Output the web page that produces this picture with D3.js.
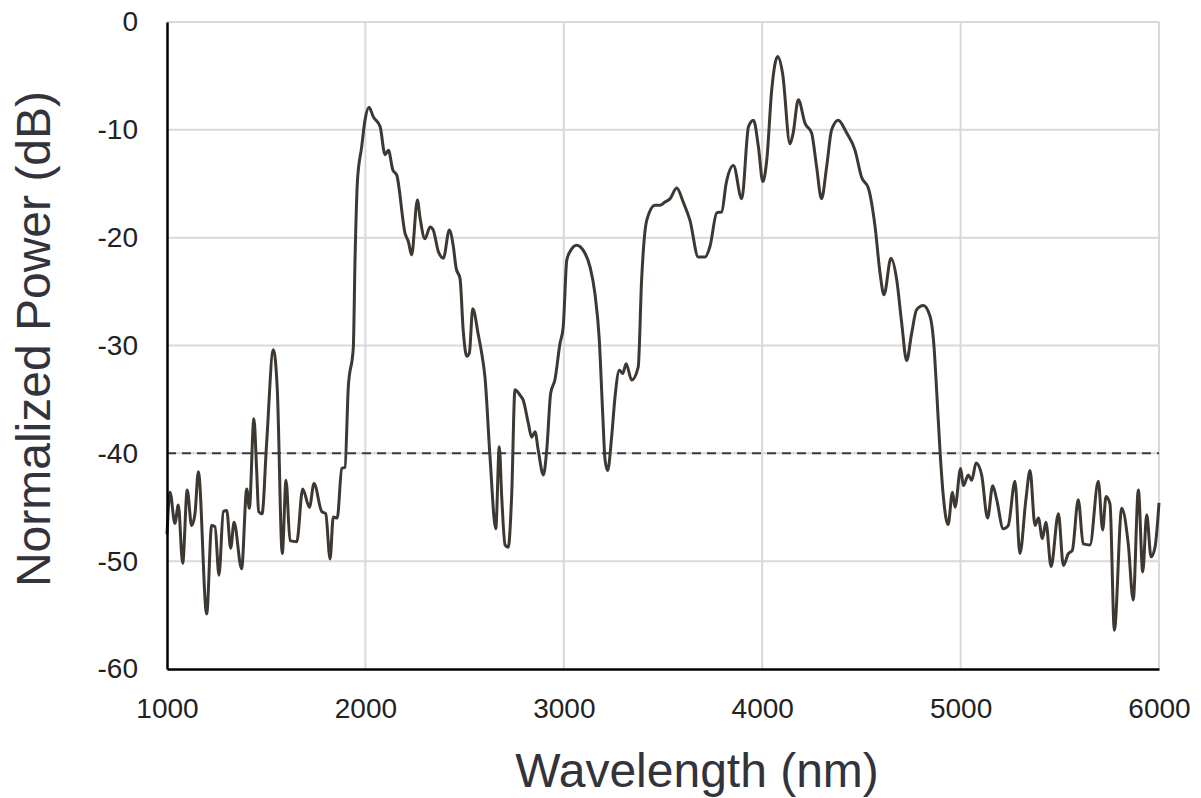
<!DOCTYPE html>
<html>
<head>
<meta charset="utf-8">
<script src="https://cdn.jsdelivr.net/npm/d3@7"></script>
<style>
  html, body { margin: 0; padding: 0; background: #fff; }
  svg { display: block; font-family: "Liberation Sans", Arial, sans-serif; }
</style>
</head>
<body>
<svg id="chart" width="1201" height="798"></svg>
<script>
// Spectrum samples: wavelength (nm) and normalized power (dB)
const wavelength = [
  1000,1015,1040,1057,1079,1102,1124,1141,1158,1200,1225,1242,1262,1284,1301,1321,1338,1376,1402,1415,
  1438,1452,1462,1479,1502,1536,1556,1581,1600,1620,1654,1684,1718,1741,1780,1800,1822,1838,1858,1881,
  1897,1914,1939,1948,1960,1981,1998,2018,2040,2074,2099,2116,2138,2158,2200,2217,2233,2262,2275,2300,
  2326,2342,2368,2393,2423,2443,2457,2477,2493,2511,2524,2541,2569,2586,2603,2628,2657,2675,2687,2704,
  2720,2737,2754,2779,2796,2821,2838,2855,2871,2897,2914,2934,2955,2981,2997,3015,3031,3065,3099,3132,
  3157,3179,3196,3208,3221,3241,3258,3280,3297,3314,3342,3375,3392,3418,3460,3485,3510,3535,3569,3602,
  3636,3678,3712,3737,3771,3796,3818,3855,3897,3931,3956,3981,4003,4023,4048,4078,4103,4140,4156,4182,
  4216,4249,4274,4299,4325,4350,4383,4426,4468,4501,4535,4569,4594,4614,4649,4678,4703,4728,4753,4778,
  4812,4846,4866,4879,4896,4913,4937,4959,4972,5000,5014,5039,5056,5078,5106,5136,5162,5182,5215,5240,
  5274,5299,5329,5350,5375,5392,5412,5430,5456,5493,5518,5543,5563,5593,5618,5652,5694,5716,5733,5753,
  5775,5812,5845,5870,5896,5918,5938,5960,5980,6000
];
const power = [
  -47.5,-43.6,-46.5,-44.8,-50.2,-43.4,-46.7,-45.6,-41.7,-54.9,-46.7,-46.8,-51.3,-45.4,-45.3,-48.8,-46.4,-50.7,-43.3,-45.1,
  -36.8,-41.6,-45.4,-45.6,-39.1,-30.4,-34.1,-49.3,-42.5,-48.1,-48.2,-43.3,-45.0,-42.8,-45.4,-45.6,-49.8,-45.9,-46.0,-41.4,
  -41.3,-33.8,-30.2,-21.8,-14.7,-11.6,-9.1,-7.9,-8.8,-9.7,-12.3,-11.9,-13.7,-14.2,-19.6,-20.4,-21.6,-16.5,-18.1,-20.1,
  -19.0,-19.3,-21.3,-21.9,-19.3,-20.8,-22.8,-23.8,-28.6,-31.0,-30.7,-26.6,-29.0,-30.7,-33.0,-40.3,-47.0,-39.4,-44.0,-48.5,
  -48.7,-44.0,-34.1,-34.6,-35.1,-37.2,-38.5,-38.0,-39.7,-42.0,-39.7,-34.4,-33.2,-29.8,-28.3,-22.1,-21.3,-20.7,-21.2,-22.7,
  -25.2,-29.5,-36.3,-40.6,-41.6,-38.5,-34.8,-32.3,-32.6,-31.7,-33.2,-32.0,-24.0,-18.4,-17.0,-17.0,-16.7,-16.4,-15.4,-16.7,
  -18.4,-21.8,-21.8,-20.8,-17.7,-17.6,-15.0,-13.3,-16.4,-9.7,-9.1,-11.6,-14.8,-12.8,-6.3,-3.2,-4.8,-11.3,-10.3,-7.2,
  -9.4,-10.3,-13.4,-16.4,-13.4,-10.0,-9.1,-10.3,-11.9,-14.4,-15.4,-19.0,-23.3,-25.3,-21.9,-23.9,-27.9,-31.4,-28.9,-26.7,
  -26.3,-27.3,-30.1,-34.1,-39.7,-44.0,-46.6,-43.6,-45.0,-41.4,-43.0,-42.0,-42.5,-40.9,-42.0,-46.0,-43.0,-44.3,-47.0,-46.7,
  -42.6,-49.3,-44.3,-41.6,-46.7,-46.0,-47.9,-46.4,-50.5,-45.6,-50.4,-49.3,-49.0,-44.3,-48.4,-48.5,-42.6,-47.1,-44.0,-44.7,
  -56.4,-45.1,-48.4,-53.6,-43.4,-51.0,-45.7,-49.6,-48.7,-44.6
];

// Axis ticks and the -40 dB reference level
const xTicks = [1000, 2000, 3000, 4000, 5000, 6000];
const yTicks = [0, -10, -20, -30, -40, -50, -60];
const thresholdDb = [-40];

const svg = d3.select("#chart");
const margin = { left: 167, right: 42, top: 22, bottom: 129 };
const W = 1201, H = 798;

const x = d3.scaleLinear().domain([1000, 6000]).range([margin.left, W - margin.right]);
const y = d3.scaleLinear().domain([-60, 0]).range([H - margin.bottom, margin.top]);

const points = wavelength.map((w, i) => ({ w, p: power[i] }));

// Gridlines
const grid = svg.append("g");
grid.selectAll("line.gx").data(xTicks.slice(1)).join("line")
  .attr("x1", d => x(d)).attr("x2", d => x(d))
  .attr("y1", y(0)).attr("y2", y(-60))
  .attr("stroke", "#d9d9d9").attr("stroke-width", 2);
grid.selectAll("line.gy").data(yTicks.slice(0, -1)).join("line")
  .attr("x1", x(1000)).attr("x2", x(6000))
  .attr("y1", d => y(d)).attr("y2", d => y(d))
  .attr("stroke", "#d9d9d9").attr("stroke-width", 2);

// -40 dB dashed reference
svg.selectAll("line.ref").data(thresholdDb).join("line")
  .attr("x1", x(1000)).attr("x2", x(6000))
  .attr("y1", d => y(d)).attr("y2", d => y(d))
  .attr("stroke", "#3b3b45").attr("stroke-width", 2)
  .attr("stroke-dasharray", "9,6");

// Spectrum trace
const line = d3.line().x(d => x(d.w)).y(d => y(d.p)).curve(d3.curveMonotoneX);
svg.append("path").datum(points)
  .attr("d", line)
  .attr("fill", "none")
  .attr("stroke", "#3e3833")
  .attr("stroke-width", 3)
  .attr("stroke-linejoin", "round");

// Axes
const xAxis = d3.axisBottom(x).tickValues(xTicks).tickSize(0).tickPadding(29).tickFormat(d3.format("d"));
const yAxis = d3.axisLeft(y).tickValues(yTicks).tickSize(0).tickPadding(29).tickFormat(d => String(d));

const gx = svg.append("g").attr("transform", `translate(0,${y(-60)})`).call(xAxis);
const gy = svg.append("g").attr("transform", `translate(${x(1000)},0)`).call(yAxis);
[gx, gy].forEach(g => {
  g.select(".domain").attr("stroke", "#000").attr("stroke-width", 2.5);
  g.selectAll("text").attr("font-size", 28).attr("fill", "#222")
    .attr("font-family", "\"Liberation Sans\", Arial, sans-serif");
});

// Axis titles
svg.append("text")
  .attr("x", 697).attr("y", 787)
  .attr("text-anchor", "middle")
  .attr("font-size", 48).attr("fill", "#33333b")
  .text("Wavelength (nm)");
svg.append("text")
  .attr("transform", `translate(50,339) rotate(-90)`)
  .attr("text-anchor", "middle")
  .attr("font-size", 48).attr("fill", "#33333b")
  .text("Normalized Power (dB)");
</script>
</body>
</html>
